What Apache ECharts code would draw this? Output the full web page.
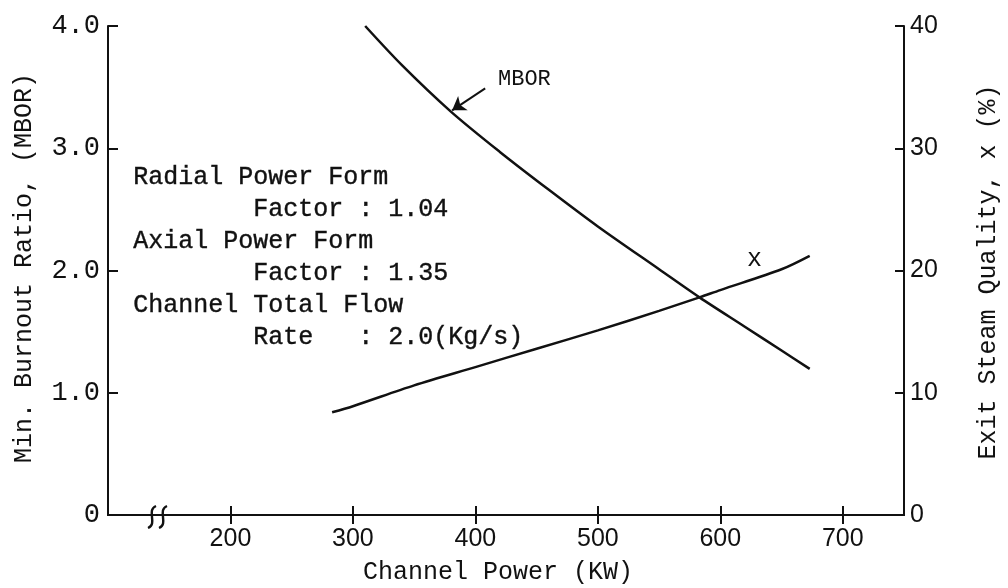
<!DOCTYPE html>
<html>
<head>
<meta charset="utf-8">
<script src="https://cdn.jsdelivr.net/npm/echarts@6/dist/echarts.min.js"></script>
<style>
  html, body { margin: 0; padding: 0; background: #ffffff; }
  #chart { width: 1008px; height: 588px; }
</style>
</head>
<body>
<div id="chart"></div>
<script>
// Minimum burnout ratio vs. channel power
const powerMBOR = [310, 340, 380, 420, 460, 500, 550, 583, 620, 650, 673];
const mborValues = [4.0, 3.68, 3.30, 2.97, 2.66, 2.36, 2.01, 1.78, 1.54, 1.345, 1.195];

// Exit steam quality (%) vs. channel power
const powerQuality = [283, 300, 350, 400, 450, 500, 550, 583, 600, 650, 673];
const qualityValues = [8.4, 8.9, 10.6, 12.1, 13.6, 15.1, 16.7, 17.8, 18.4, 20.1, 21.2];

// Axis ticks and their labels
const powerTicks = [200, 300, 400, 500, 600, 700];
const mborTickLabels = ['0', '1.0', '2.0', '3.0', '4.0'];
const qualityTickLabels = ['0', '10', '20', '30', '40'];

// Conditions noted on the plot
const noteLines = [
  'Radial Power Form',
  '        Factor : 1.04',
  'Axial Power Form',
  '        Factor : 1.35',
  'Channel Total Flow',
  '        Rate   : 2.0(Kg/s)'
];

const INK = '#111111';
const MONO = '"Liberation Mono", "DejaVu Sans Mono", monospace';
const SANS = '"Liberation Sans", Arial, sans-serif';

const chart = echarts.init(document.getElementById('chart'), null, { renderer: 'canvas' });

const pair = (xs, ys) => xs.map((x, i) => [x, ys[i]]);

const axisLine = { show: true, lineStyle: { color: INK, width: 2 } };
const tickStyle = { color: INK, width: 2 };

// squiggle marking the broken power axis
function breakMark(cx) {
  return {
    type: 'bezierCurve',
    shape: { x1: cx - 4, y1: 528, cpx1: cx + 6, cpy1: 524, cpx2: cx - 6, cpy2: 510, x2: cx + 4, y2: 506 },
    style: { stroke: INK, lineWidth: 2.4, fill: null },
    z: 100
  };
}

const noteGraphics = noteLines.map((t, i) => ({
  type: 'text',
  left: 133,
  top: 165 + i * 32,
  style: { text: t, font: '25px ' + MONO, fill: INK, stroke: INK, lineWidth: 0.4 },
  z: 100
}));

chart.setOption({
  backgroundColor: '#ffffff',
  animation: false,
  grid: { left: 108, right: 104, top: 26, bottom: 73, containLabel: false },
  xAxis: [
    {
      type: 'value', position: 'bottom', min: 100, max: 750,
      axisLine: axisLine,
      axisTick: { show: true, inside: true, length: 9, customValues: powerTicks, lineStyle: tickStyle },
      axisLabel: { customValues: powerTicks, color: INK, fontFamily: SANS, fontSize: 25, margin: 12 },
      splitLine: { show: false }
    },
    {
      type: 'value', position: 'top', min: 100, max: 750,
      axisLine: axisLine,
      axisTick: { show: true, inside: true, length: 9, customValues: powerTicks, lineStyle: tickStyle },
      axisLabel: { show: false },
      splitLine: { show: false }
    }
  ],
  yAxis: [
    {
      type: 'value', position: 'left', min: 0, max: 4, interval: 1,
      axisLine: axisLine,
      axisTick: { show: true, inside: true, length: 10, lineStyle: tickStyle },
      axisLabel: {
        color: INK, fontFamily: MONO, fontSize: 27, margin: 8,
        formatter: v => mborTickLabels[Math.round(v)]
      },
      splitLine: { show: false }
    },
    {
      type: 'value', position: 'right', min: 0, max: 40, interval: 10,
      axisLine: axisLine,
      axisTick: { show: true, inside: true, length: 9, lineStyle: tickStyle },
      axisLabel: {
        color: INK, fontFamily: SANS, fontSize: 25, margin: 6,
        formatter: v => qualityTickLabels[Math.round(v / 10)]
      },
      splitLine: { show: false }
    }
  ],
  series: [
    {
      name: 'MBOR', type: 'line', xAxisIndex: 0, yAxisIndex: 0,
      data: pair(powerMBOR, mborValues),
      smooth: 0.3, showSymbol: false, clip: true,
      lineStyle: { color: INK, width: 2.5 },
      markLine: {
        silent: true, animation: false,
        symbol: ['none', 'arrow'], symbolSize: 13,
        lineStyle: { color: INK, width: 2, type: 'solid' },
        label: { show: false },
        data: [[{ coord: [408, 3.49] }, { coord: [381, 3.31] }]]
      }
    },
    {
      name: 'x', type: 'line', xAxisIndex: 0, yAxisIndex: 1,
      data: pair(powerQuality, qualityValues),
      smooth: 0.3, showSymbol: false,
      lineStyle: { color: INK, width: 2.5 }
    }
  ],
  graphic: [
    breakMark(152),
    breakMark(163),
    {
      type: 'text', left: 498, top: 68,
      style: { text: 'MBOR', font: '22px ' + MONO, fill: INK }, z: 100
    },
    {
      type: 'text', left: 747, top: 247,
      style: { text: 'x', font: '25px ' + MONO, fill: INK }, z: 100
    },
    {
      type: 'text', x: 24, y: 268, rotation: Math.PI / 2,
      style: { text: 'Min. Burnout Ratio, (MBOR)', font: '25px ' + MONO, fill: INK, align: 'center', verticalAlign: 'middle' },
      z: 100
    },
    {
      type: 'text', x: 988, y: 272, rotation: Math.PI / 2,
      style: { text: 'Exit Steam Quality, x (%)', font: '25px ' + MONO, fill: INK, align: 'center', verticalAlign: 'middle' },
      z: 100
    },
    {
      type: 'text', x: 498, y: 572,
      style: { text: 'Channel Power (KW)', font: '25px ' + MONO, fill: INK, align: 'center', verticalAlign: 'middle' },
      z: 100
    }
  ].concat(noteGraphics)
});
</script>
</body>
</html>
